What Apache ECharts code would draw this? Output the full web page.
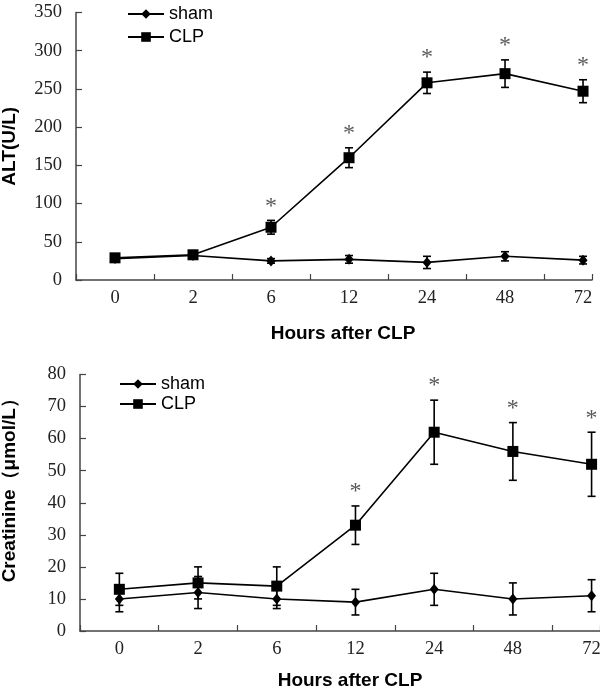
<!DOCTYPE html>
<html>
<head>
<meta charset="utf-8">
<script src="https://cdn.jsdelivr.net/npm/echarts@6/dist/echarts.min.js"></script>
<style>html,body{margin:0;padding:0;background:#fff;}#c{width:600px;height:690px;}</style>
</head>
<body>
<div id="c"></div>
<script>
const hours = ['0', '2', '6', '12', '24', '48', '72'];
const altTicks = [0, 50, 100, 150, 200, 250, 300, 350];
const creTicks = [0, 10, 20, 30, 40, 50, 60, 70, 80];
const altSham = [28, 32, 25, 27, 23, 31, 26];
const altShamSD = [3, 3, 3, 5, 8, 6, 5];
const altCLP = [29, 33, 69, 160, 258, 270, 247];
const altCLPSD = [4, 3, 9, 13, 14, 18, 15];
const altSig = [0, 0, 1, 1, 1, 1, 1];
const creSham = [10, 12, 10, 9, 13, 10, 11];
const creShamSD = [4, 5, 3, 4, 5, 5, 5];
const creCLP = [13, 15, 14, 33, 62, 56, 52];
const creCLPSD = [5, 5, 6, 6, 10, 9, 10];
const creSig = [0, 0, 0, 1, 1, 1, 1];

const serif = "'Liberation Serif','Times New Roman',serif";
const sans = "'Liberation Sans',Arial,sans-serif";

function errData(means, sds, sig) {
  return means.map((m, i) => [i, m, sds[i], sig ? sig[i] : 0]);
}
function ptData(vals) {
  return vals.map((v, i) => [i, v]);
}
function errRender(params, api) {
  const i = api.value(0), m = api.value(1), sd = api.value(2), s = api.value(3);
  const hi = api.coord([i, m + sd]);
  const lo = api.coord([i, m - sd]);
  const w = 4;
  const st = { stroke: '#000', lineWidth: 1.6 };
  const children = [
    { type: 'line', shape: { x1: hi[0], y1: hi[1], x2: lo[0], y2: lo[1] }, style: st },
    { type: 'line', shape: { x1: hi[0] - w, y1: hi[1], x2: hi[0] + w, y2: hi[1] }, style: st },
    { type: 'line', shape: { x1: lo[0] - w, y1: lo[1], x2: lo[0] + w, y2: lo[1] }, style: st }
  ];
  if (s) {
    children.push({ type: 'text', x: hi[0], y: hi[1] - 14,
      style: { text: '*', fill: '#5a5a5a', font: '24px ' + serif, align: 'center', verticalAlign: 'middle' } });
  }
  return { type: 'group', children: children };
}

// label axis: category index positions, no line/ticks
function xLabelAxis(gi, max, gap, pad) {
  return {
    type: 'value', gridIndex: gi, position: 'bottom', min: -0.5, max: max, interval: 0.5,
    name: 'Hours after CLP', nameLocation: 'middle', nameGap: gap,
    nameTextStyle: { fontFamily: sans, fontWeight: 'bold', fontSize: 19, color: '#000', padding: pad },
    axisLine: { show: false, onZero: false }, axisTick: { show: false },
    axisLabel: { fontFamily: serif, fontSize: 18.5, color: '#222', margin: 9,
      formatter: v => (Number.isInteger(v) && hours[v] !== undefined) ? hours[v] : '' },
    splitLine: { show: false }
  };
}
// boundary axis: line and inner ticks between categories
function xTickAxis(gi, max) {
  return {
    type: 'value', gridIndex: gi, position: 'bottom', min: 0, max: max + 0.5, interval: 1,
    axisLine: { show: true, onZero: false, lineStyle: { color: '#444', width: 1.5 } },
    axisTick: { show: true, inside: true, length: 6, lineStyle: { color: '#444', width: 1.2 } },
    axisLabel: { show: false },
    splitLine: { show: false }
  };
}
function yAxis(gi, ticks, name, gap, pad) {
  return {
    type: 'value', gridIndex: gi, position: 'left', min: ticks[0], max: ticks[ticks.length - 1],
    interval: ticks[1] - ticks[0],
    name: name, nameLocation: 'middle', nameGap: gap, nameRotate: 90,
    nameTextStyle: { fontFamily: sans, fontWeight: 'bold', fontSize: 19, color: '#000', padding: pad },
    axisLine: { show: true, onZero: false, lineStyle: { color: '#444', width: 1.5 } },
    axisTick: { show: true, inside: true, length: 6, lineStyle: { color: '#444', width: 1.2 } },
    axisLabel: { fontFamily: serif, fontSize: 18.5, color: '#222', margin: 14 },
    splitLine: { show: false }
  };
}
function lineS(name, data, symbol, size, xi, yi) {
  return {
    type: 'line', name: name, data: ptData(data), xAxisIndex: xi, yAxisIndex: yi,
    symbol: symbol, symbolSize: size, showSymbol: true, z: 5,
    lineStyle: { color: '#000', width: 1.6 }, itemStyle: { color: '#000' }
  };
}
function errS(means, sds, sig, xi, yi) {
  return {
    type: 'custom', xAxisIndex: xi, yAxisIndex: yi, data: errData(means, sds, sig),
    encode: { x: 0, y: 1 }, renderItem: errRender, z: 3, silent: true
  };
}

const chart = echarts.init(document.getElementById('c'), null, { renderer: 'canvas' });
chart.setOption({
  animation: false,
  backgroundColor: '#fff',
  grid: [
    { left: 76, top: 12.5, width: 516, height: 267.5, containLabel: false, outerBoundsMode: 'none' },
    { left: 80, top: 374.5, width: 520, height: 256.5, containLabel: false, outerBoundsMode: 'none' }
  ],
  xAxis: [xLabelAxis(0, 6.115, 44, [0, 0, 0, 18]), xTickAxis(0, 6.115),
          xLabelAxis(1, 6.107, 40, [0, 0, 0, 20]), xTickAxis(1, 6.107)],
  yAxis: [yAxis(0, altTicks, 'ALT(U/L)', 57, 0), yAxis(1, creTicks, 'Creatinine（μmol/L）', 61, [0, 0, 0, 34])],
  legend: [
    { orient: 'vertical', left: 122, top: 0, itemWidth: 36, itemHeight: 12, itemGap: 5,
      textStyle: { fontFamily: sans, fontSize: 18, color: '#000' },
      data: [{ name: 'sham' }, { name: 'CLP' }] },
    { orient: 'vertical', left: 114, top: 370, itemWidth: 36, itemHeight: 12, itemGap: 2,
      textStyle: { fontFamily: sans, fontSize: 18, color: '#000' },
      data: [{ name: 'sham2' }, { name: 'CLP2' }],
      formatter: n => n.replace('2', '') }
  ],
  series: [
    errS(altSham, altShamSD, null, 0, 0),
    errS(altCLP, altCLPSD, altSig, 0, 0),
    lineS('sham', altSham, 'diamond', [9, 11], 0, 0),
    lineS('CLP', altCLP, 'rect', 11, 0, 0),
    errS(creSham, creShamSD, null, 2, 1),
    errS(creCLP, creCLPSD, creSig, 2, 1),
    lineS('sham2', creSham, 'diamond', [9, 11], 2, 1),
    lineS('CLP2', creCLP, 'rect', 11, 2, 1)
  ]
});
</script>
</body>
</html>
